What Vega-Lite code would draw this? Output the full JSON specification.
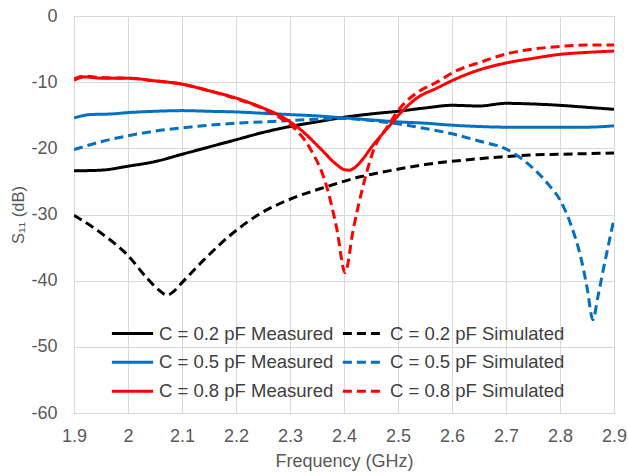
{
  "$schema": "https://vega.github.io/schema/vega-lite/v6.json",
  "autosize": {"type": "none"},
  "padding": {"left": 74, "top": 16, "right": 14, "bottom": 63},
  "width": 540,
  "height": 397,
  "background": "white",
  "config": {
    "view": {"stroke": "#767676", "strokeWidth": 1},
    "font": "Liberation Sans"
  },
  "data": {"values": [
    {"f":1.9,"v":-23.4,"s":"C = 0.2 pF Measured"},{"f":1.95,"v":-23.3,"s":"C = 0.2 pF Measured"},{"f":2.0,"v":-22.7,"s":"C = 0.2 pF Measured"},{"f":2.05,"v":-22.0,"s":"C = 0.2 pF Measured"},{"f":2.1,"v":-20.9,"s":"C = 0.2 pF Measured"},{"f":2.15,"v":-19.8,"s":"C = 0.2 pF Measured"},{"f":2.2,"v":-18.7,"s":"C = 0.2 pF Measured"},{"f":2.25,"v":-17.6,"s":"C = 0.2 pF Measured"},{"f":2.3,"v":-16.7,"s":"C = 0.2 pF Measured"},{"f":2.35,"v":-16.0,"s":"C = 0.2 pF Measured"},{"f":2.4,"v":-15.3,"s":"C = 0.2 pF Measured"},{"f":2.45,"v":-14.8,"s":"C = 0.2 pF Measured"},{"f":2.5,"v":-14.4,"s":"C = 0.2 pF Measured"},{"f":2.55,"v":-13.9,"s":"C = 0.2 pF Measured"},{"f":2.6,"v":-13.5,"s":"C = 0.2 pF Measured"},{"f":2.65,"v":-13.6,"s":"C = 0.2 pF Measured"},{"f":2.7,"v":-13.2,"s":"C = 0.2 pF Measured"},{"f":2.75,"v":-13.3,"s":"C = 0.2 pF Measured"},{"f":2.8,"v":-13.5,"s":"C = 0.2 pF Measured"},{"f":2.85,"v":-13.8,"s":"C = 0.2 pF Measured"},{"f":2.9,"v":-14.1,"s":"C = 0.2 pF Measured"},

    {"f":1.9,"v":-30.1,"s":"C = 0.2 pF Simulated"},{"f":1.95,"v":-32.8,"s":"C = 0.2 pF Simulated"},{"f":2.0,"v":-36.2,"s":"C = 0.2 pF Simulated"},{"f":2.035,"v":-39.6,"s":"C = 0.2 pF Simulated"},{"f":2.06,"v":-41.6,"s":"C = 0.2 pF Simulated"},{"f":2.072,"v":-42.2,"s":"C = 0.2 pF Simulated"},{"f":2.085,"v":-41.6,"s":"C = 0.2 pF Simulated"},{"f":2.1,"v":-40.3,"s":"C = 0.2 pF Simulated"},{"f":2.14,"v":-36.9,"s":"C = 0.2 pF Simulated"},{"f":2.19,"v":-33.1,"s":"C = 0.2 pF Simulated"},{"f":2.244,"v":-29.9,"s":"C = 0.2 pF Simulated"},{"f":2.306,"v":-27.5,"s":"C = 0.2 pF Simulated"},{"f":2.368,"v":-25.8,"s":"C = 0.2 pF Simulated"},{"f":2.43,"v":-24.3,"s":"C = 0.2 pF Simulated"},{"f":2.49,"v":-23.3,"s":"C = 0.2 pF Simulated"},{"f":2.554,"v":-22.4,"s":"C = 0.2 pF Simulated"},{"f":2.62,"v":-21.8,"s":"C = 0.2 pF Simulated"},{"f":2.69,"v":-21.3,"s":"C = 0.2 pF Simulated"},{"f":2.75,"v":-21.0,"s":"C = 0.2 pF Simulated"},{"f":2.8,"v":-20.9,"s":"C = 0.2 pF Simulated"},{"f":2.85,"v":-20.8,"s":"C = 0.2 pF Simulated"},{"f":2.9,"v":-20.7,"s":"C = 0.2 pF Simulated"},

    {"f":1.9,"v":-15.4,"s":"C = 0.5 pF Measured"},{"f":1.93,"v":-14.9,"s":"C = 0.5 pF Measured"},{"f":1.97,"v":-14.8,"s":"C = 0.5 pF Measured"},{"f":2.0,"v":-14.6,"s":"C = 0.5 pF Measured"},{"f":2.05,"v":-14.4,"s":"C = 0.5 pF Measured"},{"f":2.1,"v":-14.3,"s":"C = 0.5 pF Measured"},{"f":2.15,"v":-14.4,"s":"C = 0.5 pF Measured"},{"f":2.2,"v":-14.5,"s":"C = 0.5 pF Measured"},{"f":2.25,"v":-14.7,"s":"C = 0.5 pF Measured"},{"f":2.3,"v":-14.9,"s":"C = 0.5 pF Measured"},{"f":2.35,"v":-15.1,"s":"C = 0.5 pF Measured"},{"f":2.4,"v":-15.4,"s":"C = 0.5 pF Measured"},{"f":2.45,"v":-15.7,"s":"C = 0.5 pF Measured"},{"f":2.5,"v":-16.0,"s":"C = 0.5 pF Measured"},{"f":2.55,"v":-16.2,"s":"C = 0.5 pF Measured"},{"f":2.6,"v":-16.5,"s":"C = 0.5 pF Measured"},{"f":2.65,"v":-16.7,"s":"C = 0.5 pF Measured"},{"f":2.7,"v":-16.8,"s":"C = 0.5 pF Measured"},{"f":2.75,"v":-16.8,"s":"C = 0.5 pF Measured"},{"f":2.8,"v":-16.8,"s":"C = 0.5 pF Measured"},{"f":2.85,"v":-16.8,"s":"C = 0.5 pF Measured"},{"f":2.9,"v":-16.6,"s":"C = 0.5 pF Measured"},

    {"f":1.9,"v":-20.2,"s":"C = 0.5 pF Simulated"},{"f":1.95,"v":-19.0,"s":"C = 0.5 pF Simulated"},{"f":2.0,"v":-18.1,"s":"C = 0.5 pF Simulated"},{"f":2.05,"v":-17.4,"s":"C = 0.5 pF Simulated"},{"f":2.1,"v":-16.9,"s":"C = 0.5 pF Simulated"},{"f":2.15,"v":-16.5,"s":"C = 0.5 pF Simulated"},{"f":2.2,"v":-16.2,"s":"C = 0.5 pF Simulated"},{"f":2.25,"v":-16.0,"s":"C = 0.5 pF Simulated"},{"f":2.3,"v":-15.8,"s":"C = 0.5 pF Simulated"},{"f":2.35,"v":-15.6,"s":"C = 0.5 pF Simulated"},{"f":2.4,"v":-15.5,"s":"C = 0.5 pF Simulated"},{"f":2.45,"v":-15.8,"s":"C = 0.5 pF Simulated"},{"f":2.5,"v":-16.3,"s":"C = 0.5 pF Simulated"},{"f":2.55,"v":-17.0,"s":"C = 0.5 pF Simulated"},{"f":2.6,"v":-17.8,"s":"C = 0.5 pF Simulated"},{"f":2.65,"v":-18.9,"s":"C = 0.5 pF Simulated"},{"f":2.7,"v":-20.1,"s":"C = 0.5 pF Simulated"},{"f":2.75,"v":-23.0,"s":"C = 0.5 pF Simulated"},{"f":2.78,"v":-25.6,"s":"C = 0.5 pF Simulated"},{"f":2.8,"v":-27.8,"s":"C = 0.5 pF Simulated"},{"f":2.82,"v":-31.5,"s":"C = 0.5 pF Simulated"},{"f":2.84,"v":-37.0,"s":"C = 0.5 pF Simulated"},{"f":2.85,"v":-41.0,"s":"C = 0.5 pF Simulated"},{"f":2.861,"v":-45.9,"s":"C = 0.5 pF Simulated"},{"f":2.87,"v":-42.5,"s":"C = 0.5 pF Simulated"},{"f":2.88,"v":-38.4,"s":"C = 0.5 pF Simulated"},{"f":2.89,"v":-34.5,"s":"C = 0.5 pF Simulated"},{"f":2.9,"v":-30.6,"s":"C = 0.5 pF Simulated"},

    {"f":1.9,"v":-9.7,"s":"C = 0.8 pF Measured"},{"f":1.92,"v":-9.2,"s":"C = 0.8 pF Measured"},{"f":1.95,"v":-9.4,"s":"C = 0.8 pF Measured"},{"f":2.0,"v":-9.4,"s":"C = 0.8 pF Measured"},{"f":2.05,"v":-9.8,"s":"C = 0.8 pF Measured"},{"f":2.1,"v":-10.3,"s":"C = 0.8 pF Measured"},{"f":2.15,"v":-11.3,"s":"C = 0.8 pF Measured"},{"f":2.2,"v":-12.4,"s":"C = 0.8 pF Measured"},{"f":2.25,"v":-13.9,"s":"C = 0.8 pF Measured"},{"f":2.28,"v":-15.0,"s":"C = 0.8 pF Measured"},{"f":2.32,"v":-17.2,"s":"C = 0.8 pF Measured"},{"f":2.356,"v":-20.0,"s":"C = 0.8 pF Measured"},{"f":2.387,"v":-22.5,"s":"C = 0.8 pF Measured"},{"f":2.4,"v":-23.2,"s":"C = 0.8 pF Measured"},{"f":2.41,"v":-23.3,"s":"C = 0.8 pF Measured"},{"f":2.42,"v":-22.9,"s":"C = 0.8 pF Measured"},{"f":2.43,"v":-22.1,"s":"C = 0.8 pF Measured"},{"f":2.454,"v":-19.5,"s":"C = 0.8 pF Measured"},{"f":2.48,"v":-17.0,"s":"C = 0.8 pF Measured"},{"f":2.504,"v":-14.7,"s":"C = 0.8 pF Measured"},{"f":2.535,"v":-12.4,"s":"C = 0.8 pF Measured"},{"f":2.572,"v":-10.9,"s":"C = 0.8 pF Measured"},{"f":2.61,"v":-9.4,"s":"C = 0.8 pF Measured"},{"f":2.652,"v":-8.1,"s":"C = 0.8 pF Measured"},{"f":2.7,"v":-7.1,"s":"C = 0.8 pF Measured"},{"f":2.75,"v":-6.4,"s":"C = 0.8 pF Measured"},{"f":2.8,"v":-5.8,"s":"C = 0.8 pF Measured"},{"f":2.85,"v":-5.5,"s":"C = 0.8 pF Measured"},{"f":2.9,"v":-5.3,"s":"C = 0.8 pF Measured"},

    {"f":1.9,"v":-9.5,"s":"C = 0.8 pF Simulated"},{"f":1.92,"v":-9.1,"s":"C = 0.8 pF Simulated"},{"f":1.95,"v":-9.3,"s":"C = 0.8 pF Simulated"},{"f":2.0,"v":-9.4,"s":"C = 0.8 pF Simulated"},{"f":2.05,"v":-9.8,"s":"C = 0.8 pF Simulated"},{"f":2.1,"v":-10.3,"s":"C = 0.8 pF Simulated"},{"f":2.15,"v":-11.3,"s":"C = 0.8 pF Simulated"},{"f":2.2,"v":-12.5,"s":"C = 0.8 pF Simulated"},{"f":2.25,"v":-14.0,"s":"C = 0.8 pF Simulated"},{"f":2.28,"v":-15.3,"s":"C = 0.8 pF Simulated"},{"f":2.306,"v":-16.8,"s":"C = 0.8 pF Simulated"},{"f":2.337,"v":-20.0,"s":"C = 0.8 pF Simulated"},{"f":2.368,"v":-25.8,"s":"C = 0.8 pF Simulated"},{"f":2.387,"v":-32.3,"s":"C = 0.8 pF Simulated"},{"f":2.402,"v":-38.8,"s":"C = 0.8 pF Simulated"},{"f":2.417,"v":-32.3,"s":"C = 0.8 pF Simulated"},{"f":2.435,"v":-25.8,"s":"C = 0.8 pF Simulated"},{"f":2.457,"v":-19.8,"s":"C = 0.8 pF Simulated"},{"f":2.48,"v":-16.8,"s":"C = 0.8 pF Simulated"},{"f":2.504,"v":-13.9,"s":"C = 0.8 pF Simulated"},{"f":2.535,"v":-11.6,"s":"C = 0.8 pF Simulated"},{"f":2.572,"v":-10.0,"s":"C = 0.8 pF Simulated"},{"f":2.605,"v":-8.4,"s":"C = 0.8 pF Simulated"},{"f":2.652,"v":-7.0,"s":"C = 0.8 pF Simulated"},{"f":2.702,"v":-5.7,"s":"C = 0.8 pF Simulated"},{"f":2.75,"v":-5.0,"s":"C = 0.8 pF Simulated"},{"f":2.8,"v":-4.6,"s":"C = 0.8 pF Simulated"},{"f":2.85,"v":-4.4,"s":"C = 0.8 pF Simulated"},{"f":2.9,"v":-4.4,"s":"C = 0.8 pF Simulated"}
  ]},
  "mark": {"type": "line", "strokeWidth": 3, "interpolate": "monotone", "clip": true},
  "encoding": {
    "x": {
      "field": "f", "type": "quantitative",
      "scale": {"domain": [1.9, 2.9], "nice": false, "zero": false},
      "axis": {
        "values": [1.9, 2.0, 2.1, 2.2, 2.3, 2.4, 2.5, 2.6, 2.7, 2.8, 2.9],
        "format": "~g",
        "labelFlush": false, "labelOverlap": false,
        "title": "Frequency (GHz)",
        "titleFont": "Liberation Sans", "titleFontSize": 18, "titleFontWeight": "normal", "titleColor": "#595959", "titlePadding": 7,
        "labelFont": "Liberation Sans", "labelFontSize": 18, "labelColor": "#595959", "labelPadding": 14,
        "ticks": false, "domain": false,
        "grid": true, "gridColor": "#d9d9d9", "gridWidth": 1
      }
    },
    "y": {
      "field": "v", "type": "quantitative",
      "scale": {"domain": [-60, 0], "nice": false},
      "axis": {
        "values": [-60, -50, -40, -30, -20, -10, 0],
        "labelExpr": "datum.value == 0 ? '0' : '-' + format(abs(datum.value), 'd')",
        "labelFlush": false, "labelOverlap": false,
        "title": "S₁₁ (dB)",
        "titleFont": "Liberation Sans", "titleFontSize": 16.5, "titleFontWeight": "normal", "titleColor": "#595959", "titlePadding": 4,
        "labelFont": "Liberation Sans", "labelFontSize": 18, "labelColor": "#595959", "labelPadding": 17,
        "ticks": false, "domain": false,
        "grid": true, "gridColor": "#d9d9d9", "gridWidth": 1
      }
    },
    "color": {
      "field": "s", "type": "nominal",
      "scale": {
        "domain": ["C = 0.2 pF Measured", "C = 0.5 pF Measured", "C = 0.8 pF Measured", "C = 0.2 pF Simulated", "C = 0.5 pF Simulated", "C = 0.8 pF Simulated"],
        "range": ["#000000", "#0070C0", "#FF0000", "#000000", "#0070C0", "#FF0000"]
      },
      "legend": {
        "title": null, "orient": "none", "legendX": 36, "legendY": 303, "columns": 2,
        "columnPadding": 7, "rowPadding": 0, "padding": 0, "clipHeight": 28.5,
        "symbolType": "stroke", "symbolSize": 1700, "symbolStrokeWidth": 3,
        "labelFont": "Liberation Sans", "labelFontSize": 18.5, "labelColor": "#404040", "labelOffset": 4, "labelLimit": 300
      }
    },
    "strokeDash": {
      "field": "s", "type": "nominal",
      "scale": {
        "domain": ["C = 0.2 pF Measured", "C = 0.5 pF Measured", "C = 0.8 pF Measured", "C = 0.2 pF Simulated", "C = 0.5 pF Simulated", "C = 0.8 pF Simulated"],
        "range": [[1, 0], [1, 0], [1, 0], [9, 5], [9, 5], [9, 5]]
      },
      "legend": {
        "title": null, "orient": "none", "legendX": 36, "legendY": 303, "columns": 2,
        "columnPadding": 7, "rowPadding": 0, "padding": 0, "clipHeight": 28.5,
        "symbolType": "stroke", "symbolSize": 1700, "symbolStrokeWidth": 3,
        "labelFont": "Liberation Sans", "labelFontSize": 18.5, "labelColor": "#404040", "labelOffset": 4, "labelLimit": 300
      }
    }
  }
}
